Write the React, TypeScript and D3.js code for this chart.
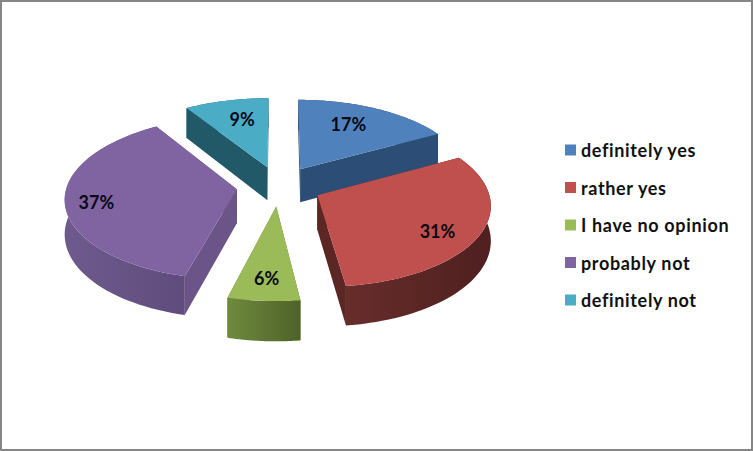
import React from 'react'
import * as d3 from 'd3'

const categories = ['definitely yes', 'rather yes', 'I have no opinion', 'probably not', 'definitely not']
const shares = [17, 31, 6, 37, 9]
const topColors = ['#4f81bd', '#c0504d', '#9bbb59', '#8064a2', '#4bacc6']
const wallColors = ['#2c4d75', '#5b2624', '#5f7530', '#6a5488', '#215968']
const rimLeft = ['#2c4d75', '#672d2b', '#6f8a3d', '#6e5a8c', '#215968']
const rimRight = ['#2c4d75', '#4e201f', '#4e6228', '#5f4b7c', '#215968']

// where each % label sits inside its slice: radius (unit) and share of the slice's sweep
const labelRadius = [0.7, 0.78, 0.78, 0.82, 0.7]
const labelSweep = [0.44, 0.55, 0.5, 0.485, 0.57]
// painter's order, back slices first
const drawOrder = [4, 0, 3, 1, 2]

const WIDTH = 753
const HEIGHT = 451
const CX = 279
const CY = 186
const SCALE_X = 170
const SCALE_Y = 80
const PERSPECTIVE = 0.105
const DEPTH = 34
const EXPLODE = 0.25

// ground plane of the pie -> screen
const project = (x: number, y: number, z = 0): [number, number] => {
  const w = 1 + PERSPECTIVE * y
  return [CX + (SCALE_X * x) / w, CY - (SCALE_Y * y) / w + (DEPTH * z) / Math.pow(w, 1.2)]
}

const polar = (a: number, r: number, ox: number, oy: number) => [ox + r * Math.sin(a), oy + r * Math.cos(a)]

export default function App() {
  const pie = d3.pie<number>().sort(null).value(d => d)
  const arcs = pie(shares)
  const line = d3.line()

  const slices = arcs.map((arc, i) => {
    const mid = (arc.startAngle + arc.endAngle) / 2
    const ox = EXPLODE * Math.sin(mid)
    const oy = EXPLODE * Math.cos(mid)
    const angles = d3.range(0, 61).map(k => arc.startAngle + ((arc.endAngle - arc.startAngle) * k) / 60)
    const rim = angles.map(a => polar(a, 1, ox, oy))

    const rimTop = rim.map(([x, y]) => project(x, y))
    const rimBottom = rim.map(([x, y]) => project(x, y, 1)).reverse()
    const top = line([project(ox, oy), ...rimTop])! + 'Z'
    const rimPath = line([...rimTop, ...rimBottom])! + 'Z'

    const first = rim[0]
    const last = rim[rim.length - 1]
    const wall = (p: number[]) =>
      line([project(ox, oy), project(p[0], p[1]), project(p[0], p[1], 1), project(ox, oy, 1)])! + 'Z'

    const labelAngle = arc.startAngle + (arc.endAngle - arc.startAngle) * labelSweep[i]
    const lp = polar(labelAngle, labelRadius[i], ox, oy)
    return { i, top, rimPath, wallA: wall(first), wallB: wall(last), label: project(lp[0], lp[1]) }
  })

  const legendY = d3.scalePoint<string>().domain(categories).range([150, 300])

  return (
    <svg
      width={WIDTH}
      height={HEIGHT}
      viewBox={`0 0 ${WIDTH} ${HEIGHT}`}
      style={{ position: 'absolute', left: 0, top: 0, display: 'block', background: '#fff' }}
      fontFamily="Lato, 'Open Sans', sans-serif"
    >
      <defs>
        {slices.map(s => (
          <linearGradient key={s.i} id={`rim-${s.i}`} x1="0" x2="1" y1="0" y2="0">
            <stop offset="0" stopColor={rimLeft[s.i]} />
            <stop offset="1" stopColor={rimRight[s.i]} />
          </linearGradient>
        ))}
      </defs>
      <rect x={1} y={1} width={WIDTH - 2} height={HEIGHT - 2} fill="#fff" stroke="#868686" strokeWidth={2} />

      {drawOrder.map(i => {
        const s = slices[i]
        return (
          <g key={i}>
            <path d={s.wallA} fill={wallColors[i]} />
            <path d={s.wallB} fill={wallColors[i]} />
            <path d={s.rimPath} fill={`url(#rim-${i})`} />
            <path d={s.top} fill={topColors[i]} />
          </g>
        )
      })}

      {slices.map(s => (
        <text
          key={s.i}
          x={s.label[0]}
          y={s.label[1]}
          textAnchor="middle"
          dominantBaseline="central"
          fontSize={18}
          fontWeight={700}
          fill="#0a0a14"
        >
          {shares[s.i]}%
        </text>
      ))}

      {categories.map((c, i) => (
        <g key={c} transform={`translate(565,${legendY(c)})`}>
          <rect x={0} y={-5.5} width={11} height={11} fill={topColors[i]} />
          <text x={16} y={0} dominantBaseline="central" fontSize={18} fontWeight={700} letterSpacing={0.65} fill="#111">
            {c}
          </text>
        </g>
      ))}
    </svg>
  )
}
